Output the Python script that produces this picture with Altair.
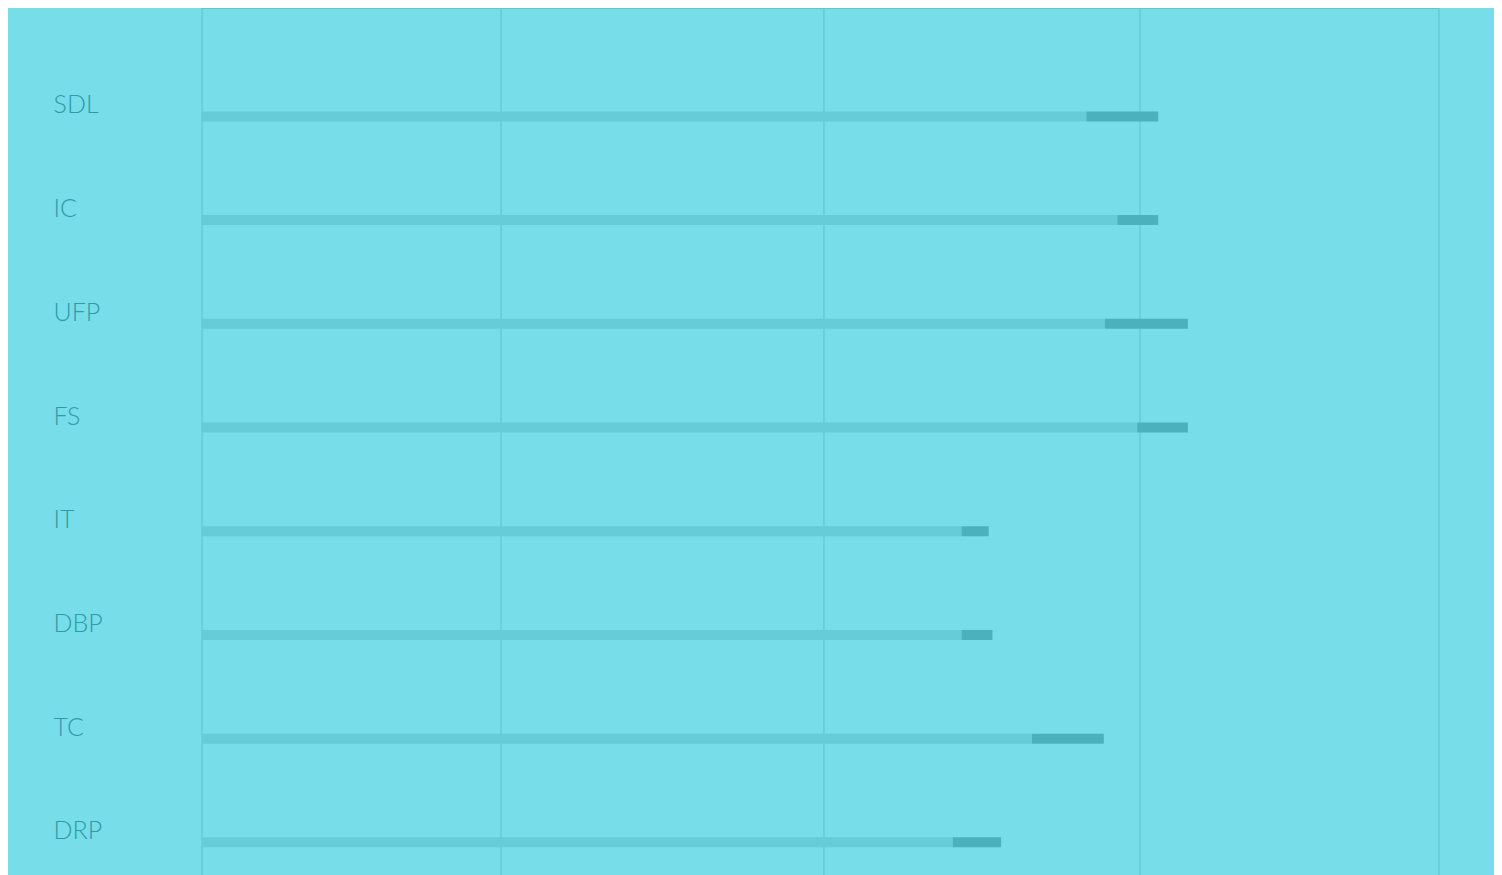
import altair as alt
import pandas as pd

categories = ["SDL", "IC", "UFP", "FS", "IT", "DBP", "TC", "DRP"]
base_values = [71.5, 74.0, 73.0, 75.6, 61.4, 61.4, 67.1, 60.7]
total_values = [77.3, 77.3, 79.7, 79.7, 63.6, 63.9, 72.9, 64.6]
grid_values = [0, 24.17, 50.28, 75.83, 100]

df = pd.DataFrame({"cat": categories, "base": base_values, "total": total_values})
grid_df = pd.DataFrame({"g": grid_values})

W = 1237
H = 867

xscale = alt.Scale(domain=[0, 100], nice=False, zero=True)
yscale = alt.Scale(domain=categories, paddingInner=0.8, paddingOuter=0.58, align=0.815)

grid = alt.Chart(grid_df).mark_rule(color="#5DC2CE", strokeWidth=1).encode(
    x=alt.X("g:Q", scale=xscale, axis=None)
)

top_line = alt.Chart(grid_df).mark_rule(color="#63C7D3", strokeWidth=2).encode(
    x=alt.value(0), x2=alt.value(W), y=alt.value(0)
)

light = alt.Chart(df).mark_bar(size=10, color="#66CCD8").encode(
    y=alt.Y("cat:N", scale=yscale, sort=categories, title=None,
            axis=alt.Axis(labelAlign="left", labelPadding=149, ticks=False, tickSize=0,
                          domain=False, grid=False, labelFont="Lato", labelFontSize=25,
                          labelFontWeight=300, labelColor="#2E9BAB",
                          labelBaseline="alphabetic", labelOffset=-3)),
    x=alt.X("base:Q", scale=xscale, axis=None),
    x2=alt.value(0),
)

dark = alt.Chart(df).mark_bar(size=10, color="#4BB1BD").encode(
    y=alt.Y("cat:N", scale=yscale, sort=categories),
    x=alt.X("base:Q", scale=xscale, axis=None),
    x2="total:Q",
)

chart = alt.layer(grid, top_line, light, dark).properties(
    width=W, height=H,
    autosize=alt.AutoSizeParams(type="none"),
    padding={"left": 194, "top": 0, "right": 55, "bottom": 0},
    background="#76DDE9",
).configure_view(stroke=None)

chart.save("out.html", embed_options={"renderer": "svg", "actions": False})
